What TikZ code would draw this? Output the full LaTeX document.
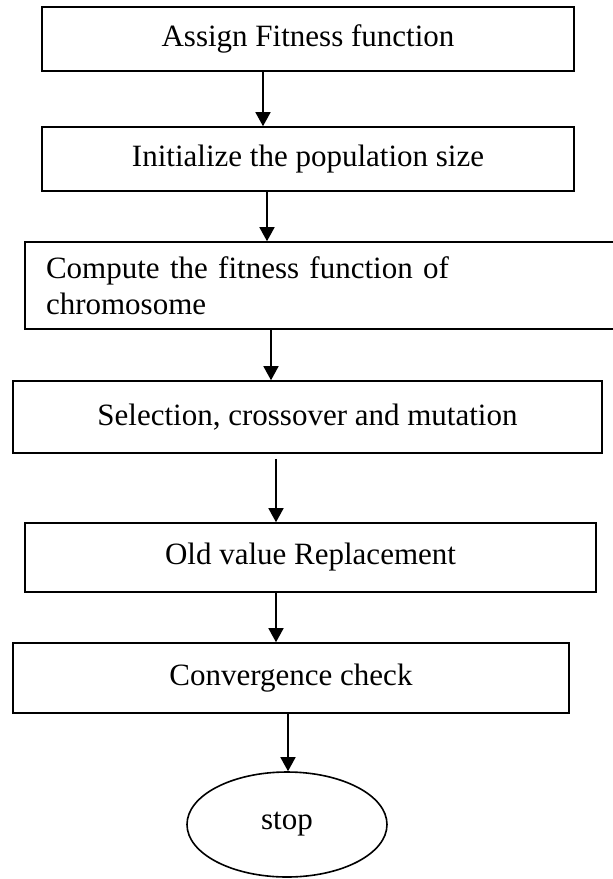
\documentclass[tikz,border=0pt]{standalone}
\usepackage{fontspec}
\setmainfont{Liberation Serif}
\usetikzlibrary{arrows.meta,shapes.geometric}

\begin{document}
\begin{tikzpicture}[x=1pt, y=-1pt, line width=1.6pt,
    font=\fontsize{31}{36}\selectfont,
    box/.style = {draw, rectangle, inner sep=0pt},
    term/.style = {draw, ellipse, inner sep=0pt, minimum width=200pt, minimum height=105pt},
    arr/.style = {-{Triangle[length=14pt,width=15pt]}, line width=1.5pt}]
    \useasboundingbox (0,0) rectangle (613,879);

    \node[box, minimum width=532pt, minimum height=64pt] (assign) at (308,39) {Assign Fitness function};
    \node[box, minimum width=532pt, minimum height=64pt] (init) at (308,159) {Initialize the population size};
    \node[box, minimum width=591pt, minimum height=87pt, text width=549pt, align=left, inner xsep=21pt] (compute) at (320.5,285.5) {Compute the fitness function of\\chromosome};
    \node[box, minimum width=589pt, minimum height=72pt] (select) at (307.5,417) {Selection, crossover and mutation};
    \node[box, minimum width=571pt, minimum height=69pt] (replace) at (310.5,557.5) {Old value Replacement};
    \node[box, minimum width=556pt, minimum height=70pt] (conv) at (291,678) {Convergence check};
    \node[term] (stop) at (287,824.5) {stop};

    \draw[arr] ([xshift=-45pt]assign.south) -- ([xshift=-45pt]init.north);
    \draw[arr] ([xshift=-41pt]init.south) -- ([xshift=-53.5pt]compute.north);
    \draw[arr] ([xshift=-49.5pt]compute.south) -- ([xshift=-36.5pt]select.north);
    \draw[arr] ([xshift=-31.5pt,yshift=-5pt]select.south) -- ([xshift=-34.5pt]replace.north);
    \draw[arr] ([xshift=-34.5pt]replace.south) -- ([xshift=-15pt]conv.north);
    \draw[arr] ([xshift=-3pt]conv.south) -- ([xshift=1pt]stop.north);
\end{tikzpicture}
\end{document}
